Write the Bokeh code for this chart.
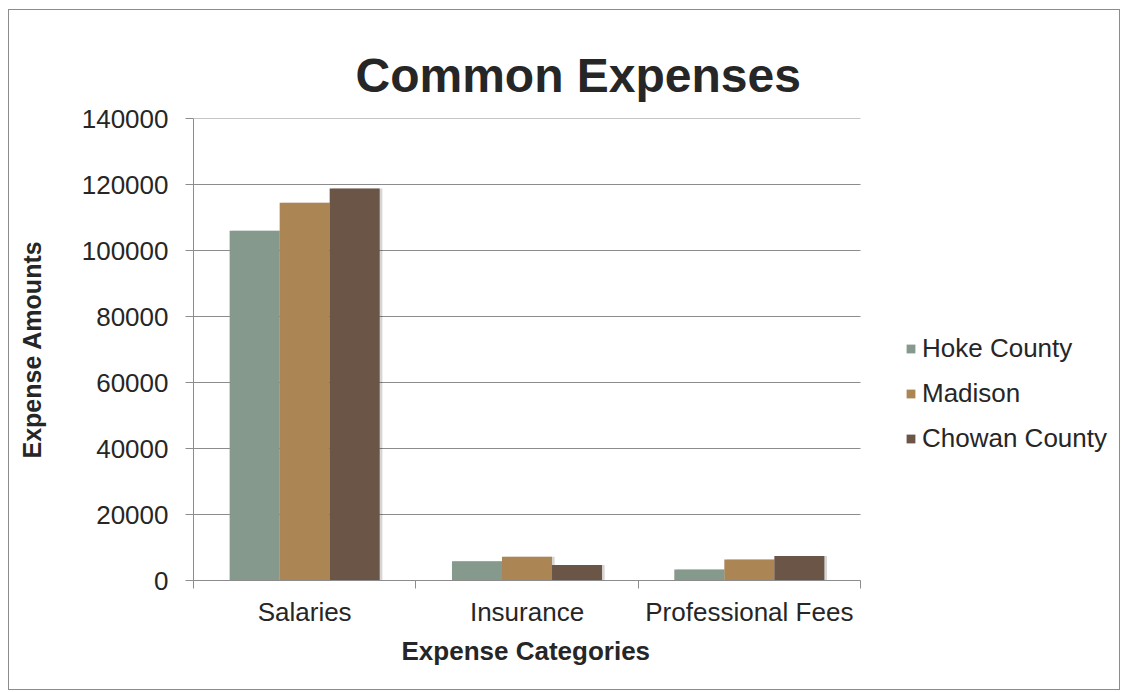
from bokeh.plotting import figure
from bokeh.models import (Range1d, FixedTicker, ColumnDataSource, Legend, LegendItem,
                          NumeralTickFormatter, Title)
from bokeh.embed import file_html
from bokeh.resources import INLINE

categories = ["Salaries", "Insurance", "Professional Fees"]
series = ["Hoke County", "Madison", "Chowan County"]
hoke = [106000, 5800, 3300]
madison = [114500, 7200, 6400]
chowan = [118800, 4700, 7400]
colors = ["#85998d", "#ab8654", "#6b5547"]
y_ticks = [0, 20000, 40000, 60000, 80000, 100000, 120000, 140000]

FONT = "Liberation Sans"
TXT = "#262626"
GRID = "#8c8c8c"

n = len(categories)
plot_px = 667.0            # pixel width of the category area
frame_px = 922.0           # frame also holds the legend on its right
x_end = n * frame_px / plot_px

p = figure(width=1110, height=679, output_backend="svg", toolbar_location=None,
           x_range=Range1d(0, x_end), y_range=Range1d(0, 140000),
           min_border_left=184, min_border_right=4, min_border_top=108, min_border_bottom=109)
p.margin = (10, 0, 0, 9)
p.styles = {"box-shadow": "0 0 0 1px #8c8c8c"}
p.outline_line_color = None
p.background_fill_color = "white"
p.border_fill_color = "white"
p.xgrid.grid_line_color = None
p.ygrid.grid_line_color = None

p.title.text = "Common Expenses"
p.title.align = "left"
p.title.offset = 162
p.title.standoff = 34
p.title.text_font = FONT
p.title.text_font_size = "48px"
p.title.text_font_style = "bold"
p.title.text_color = TXT

# horizontal grid lines limited to the category area
grid_src = ColumnDataSource(dict(x0=[0] * len(y_ticks), x1=[n] * len(y_ticks), y=y_ticks))
p.segment(x0="x0", y0="y", x1="x1", y1="y", source=grid_src, line_color=GRID, line_width=1)

centers = [i + 0.5 for i in range(n)]
xt = FixedTicker(ticks=centers, minor_ticks=list(range(n + 1)))
p.xaxis.ticker = xt
p.xaxis.bounds = (0, n)
p.xaxis.major_label_overrides = {c: lab for c, lab in zip(centers, categories)}
p.xaxis.major_tick_line_color = None
p.xaxis.minor_tick_line_color = GRID
p.xaxis.minor_tick_out = 8
p.xaxis.minor_tick_in = 0
p.xaxis.axis_line_color = GRID
p.xaxis.major_label_standoff = 8

p.yaxis.ticker = FixedTicker(ticks=y_ticks)
p.yaxis.formatter = NumeralTickFormatter(format="0")
p.yaxis.major_tick_out = 8
p.yaxis.major_tick_in = 0
p.yaxis.minor_tick_line_color = None
p.yaxis.major_tick_line_color = GRID
p.yaxis.axis_line_color = GRID
p.yaxis.major_label_standoff = 17
p.yaxis.axis_label = "Expense Amounts"
p.yaxis.axis_label_standoff = 33

for ax in (p.xaxis, p.yaxis):
    ax.major_label_text_font = FONT
    ax.major_label_text_font_size = "26px"
    ax.major_label_text_color = TXT
    ax.axis_label_text_font = FONT
    ax.axis_label_text_font_style = "bold"
    ax.axis_label_text_color = TXT
p.yaxis.axis_label_text_font_size = "25px"

xlabel = Title(text="Expense Categories", align="left", offset=208, standoff=8,
               text_font=FONT, text_font_size="26px", text_font_style="bold", text_color=TXT)
p.add_layout(xlabel, "below")

bw = 0.225
offsets = [-bw, 0.0, bw]
vals = [hoke, madison, chowan]

# soft drop shadows
for off, v in zip(offsets, vals):
    src = ColumnDataSource(dict(x=[c + off + 0.012 for c in centers], top=v))
    p.vbar(x="x", top="top", width=bw, bottom=-700, source=src,
           fill_color="black", fill_alpha=0.16, line_color=None)

items = []
for name, off, v, col in zip(series, offsets, vals, colors):
    src = ColumnDataSource(dict(x=[c + off for c in centers], top=v))
    r = p.vbar(x="x", top="top", width=bw, bottom=0, source=src,
               fill_color=col, line_color=None)
    items.append(LegendItem(label=name, renderers=[r]))

legend = Legend(items=items, location=(712, 126), orientation="vertical",
                glyph_width=11, glyph_height=11, label_height=30, spacing=14,
                label_standoff=6, padding=0, margin=0,
                border_line_color=None, background_fill_alpha=0,
                label_text_font=FONT, label_text_font_size="26px", label_text_color=TXT)
p.add_layout(legend, "center")

open("out.html", "w").write(file_html(p, INLINE))
